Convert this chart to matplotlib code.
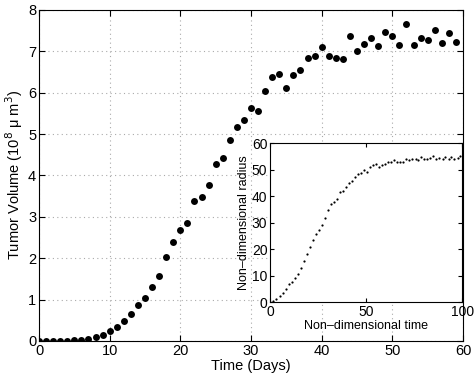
import numpy as np
import matplotlib
matplotlib.use("Agg")
import matplotlib.pyplot as plt

plt.rcParams['font.family'] = ['Liberation Sans', 'DejaVu Sans']

# Tumor volume data (10^8 um^3), one point per day
days = list(range(60))
volume = [0.00, 0.00, 0.00, 0.00, 0.01, 0.02, 0.03, 0.06, 0.09, 0.15,
          0.23, 0.33, 0.48, 0.66, 0.86, 1.04, 1.30, 1.58, 2.02, 2.40,
          2.68, 2.86, 3.38, 3.47, 3.78, 4.27, 4.43, 4.85, 5.17, 5.33,
          5.64, 5.56, 6.05, 6.37, 6.46, 6.11, 6.42, 6.54, 6.85, 6.89,
          7.11, 6.89, 6.85, 6.81, 7.37, 7.00, 7.17, 7.33, 7.13, 7.46,
          7.38, 7.15, 7.65, 7.15, 7.31, 7.28, 7.52, 7.20, 7.45, 7.23]

# Inset: non-dimensional simulation
nd_time = [0.0, 1.4, 3.1, 4.9, 6.6, 8.2, 9.7, 11.3, 12.9, 14.4,
           16.0, 17.7, 19.3, 20.9, 22.4, 24.0, 25.6, 27.1, 28.7, 30.3,
           31.8, 33.4, 35.0, 36.5, 38.1, 39.7, 41.2, 42.8, 44.3, 45.9,
           47.5, 49.0, 50.6, 52.2, 53.7, 55.3, 56.9, 58.4, 60.0, 61.6,
           63.1, 64.7, 66.3, 67.8, 69.4, 71.0, 72.5, 74.1, 75.7, 77.2,
           78.8, 80.3, 81.9, 83.5, 85.0, 86.6, 88.2, 89.8, 91.3, 92.9,
           94.4, 96.0, 97.6, 99.1]
nd_radius = [0.0, 0.5, 1.3, 2.3, 3.5, 4.9, 6.8, 7.6, 9.1, 10.7,
             13.0, 15.5, 18.3, 20.8, 23.4, 25.9, 27.4, 29.3, 31.9, 34.7,
             37.0, 38.0, 38.9, 41.5, 41.9, 43.3, 45.1, 45.7, 47.3, 48.5,
             48.7, 49.9, 49.2, 50.9, 51.8, 52.1, 51.1, 51.9, 52.0, 52.8,
             52.9, 53.5, 53.0, 52.9, 52.8, 54.2, 53.5, 53.9, 54.0, 53.7,
             54.7, 54.2, 53.9, 54.4, 55.3, 53.9, 54.3, 54.0, 54.7, 54.2,
             54.7, 53.9, 54.5, 55.1]

fig = plt.figure(figsize=(4.74, 3.81), dpi=100)

ax = fig.add_axes([0.0823, 0.105, 0.8945, 0.869])
ax.plot(days, volume, 'o', color='black', markersize=5, markeredgewidth=0)
ax.set_xlim(0, 60)
ax.set_ylim(0, 8)
ax.set_xticks(range(0, 61, 10))
ax.set_yticks(range(0, 9))
ax.grid(True, linestyle=(0, (1, 3)), color='#aaaaaa', linewidth=0.8)
ax.tick_params(direction='in', top=True, right=True, labelsize=10.5, length=4, pad=2)
ax.set_xlabel('Time (Days)', fontsize=10.5, labelpad=1)
ax.set_ylabel('Tumor Volume (10$^8$ μ m$^3$)', fontsize=10.5, labelpad=2)
for s in ax.spines.values():
    s.set_linewidth(0.8)

# inset
ins = fig.add_axes([0.570, 0.207, 0.405, 0.417])
ins.plot(nd_time, nd_radius, 'o', color='black', markersize=1.6, markeredgewidth=0)
ins.set_xlim(0, 100)
ins.set_ylim(0, 60)
ins.set_xticks([0, 50, 100])
ins.set_yticks(range(0, 61, 10))
ins.tick_params(direction='in', top=True, right=True, labelsize=10, length=3, pad=2)
ins.set_xlabel('Non\u2013dimensional time', fontsize=9, labelpad=1)
ins.set_ylabel('Non\u2013dimensional radius', fontsize=9, labelpad=1)
for s in ins.spines.values():
    s.set_linewidth(0.8)

fig.savefig('out.png', dpi=100)
